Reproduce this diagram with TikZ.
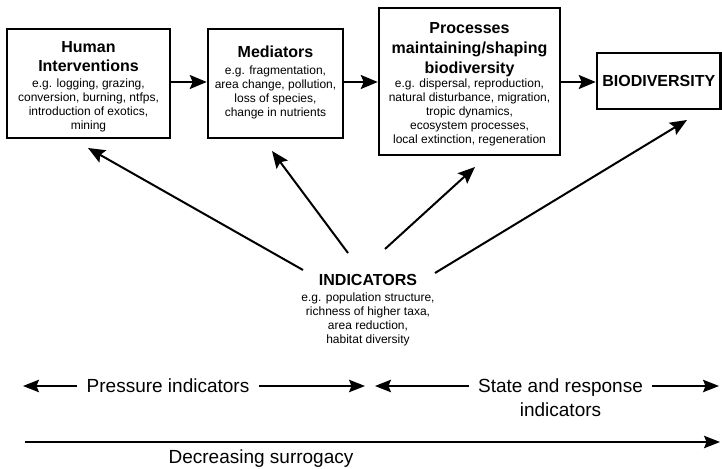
\documentclass[tikz,border=0pt]{standalone}
\usepackage{fontspec}
\setmainfont{Liberation Sans}
\usetikzlibrary{arrows.meta}
\begin{document}
\begin{tikzpicture}[x=1pt,y=-1pt,
  box/.style={draw,line width=2.5pt,rectangle,inner sep=0pt},
  ttl/.style={align=center,font=\bfseries\fontsize{16}{19}\selectfont,inner sep=0pt},
  body/.style={align=center,font=\fontsize{12}{14}\selectfont,inner sep=0pt},
  link/.style={line width=2pt,-{Stealth[length=17pt,width=14pt,inset=3pt]}},
  band/.style={line width=1.3pt,-{Stealth[length=16pt,width=12.5pt,inset=2.5pt]}},
  big/.style={font=\fontsize{19}{24}\selectfont,inner xsep=9pt,inner ysep=0pt,anchor=base},
]
\useasboundingbox (0,0) rectangle (722,468);

% boxes of the causal chain
\node[box,minimum width=163pt,minimum height=109pt] (hi) at (88.5,83.5) {};
\node[box,minimum width=135pt,minimum height=109pt] (med) at (275.5,83.5) {};
\node[box,minimum width=181pt,minimum height=147pt] (proc) at (469.5,81.5) {};
\node[box,minimum width=123.5pt,minimum height=56pt,font=\bfseries\fontsize{16}{19}\selectfont] (bio) at (658.75,81) {BIODIVERSITY};

% box contents
\node[ttl] (hiT) at (88.5,57) {Human\\Interventions};
\node[body] (hiB) at (88.5,105) {e.g. logging, grazing,\\conversion, burning, ntfps,\\introduction of exotics,\\mining};
\node[ttl] (medT) at (275.5,52) {Mediators};
\node[body] (medB) at (275.5,92) {e.g. fragmentation,\\area change, pollution,\\loss of species,\\change in nutrients};
\node[ttl,font=\bfseries\fontsize{16}{20}\selectfont] (procT) at (469.5,50) {Processes\\maintaining/shaping\\biodiversity};
\node[body] (procB) at (469.5,112) {e.g. dispersal, reproduction,\\natural disturbance, migration,\\tropic dynamics,\\ecosystem processes,\\local extinction, regeneration};

% arrows along the chain
\coordinate (flow) at (0,82);
\draw[link] (hi.east |- flow) -- (med.west |- flow);
\draw[link] (med.east |- flow) -- (proc.west |- flow);
\draw[link] (proc.east |- flow) -- (bio.west |- flow);

% indicators
\node[ttl] (indT) at (368,280) {INDICATORS};
\node[body] (indB) at (368,319) {e.g. population structure,\\richness of higher taxa,\\area reduction,\\habitat diversity};

\coordinate (s1) at (303,270);
\coordinate (s2) at (348,253);
\coordinate (s3) at (385,249);
\coordinate (s4) at (435,273);
\coordinate (e1) at (88,148);
\coordinate (e2) at (272,151);
\coordinate (e3) at (475,167);
\coordinate (e4) at (687,120);
\draw[link] (s1) -- (e1);
\draw[link] (s2) -- (e2);
\draw[link] (s3) -- (e3);
\draw[link] (s4) -- (e4);

% indicator classes
\node[big] (press) at (168,392) {Pressure indicators};
\coordinate (pL) at (23,386);
\coordinate (pR) at (365,386);
\draw[band] (press.west |- pL) -- (pL);
\draw[band] (press.east |- pR) -- (pR);

\node[big] (state) at (560.5,392) {State and response};
\node[big] (state2) at (560.5,416) {indicators};
\coordinate (sL) at (375,386);
\coordinate (sR) at (719,386);
\draw[band] (state.west |- sL) -- (sL);
\draw[band] (state.east |- sR) -- (sR);

% surrogacy axis
\coordinate (dL) at (25,442);
\coordinate (dR) at (720,442);
\draw[band] (dL) -- (dR);
\node[big] (surr) at (261,463) {Decreasing surrogacy};
\end{tikzpicture}
\end{document}
